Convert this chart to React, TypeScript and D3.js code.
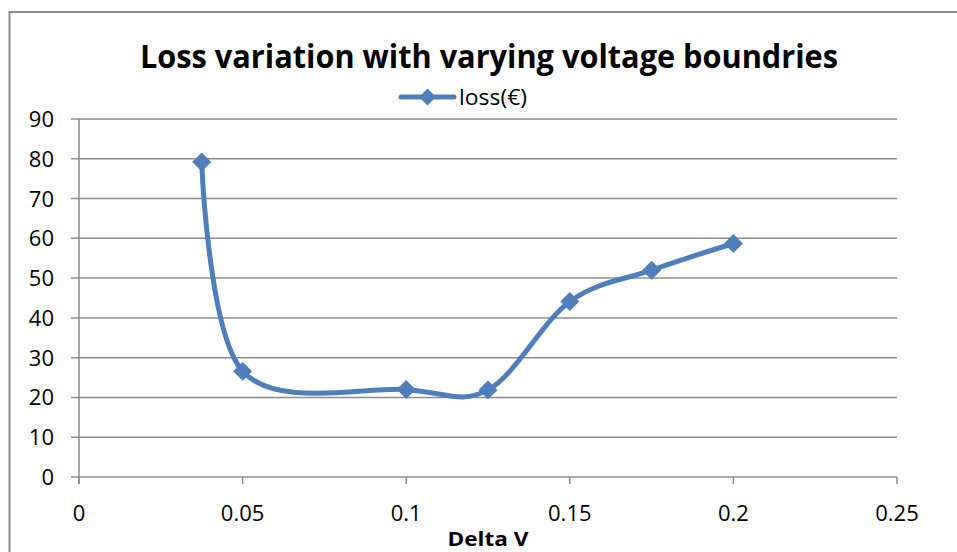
import React from "react";
import * as d3 from "d3";

// Loss figures per voltage band width
const deltaV = [0.0375, 0.05, 0.1, 0.125, 0.15, 0.175, 0.2];
const loss = [79.2, 26.6, 22.0, 21.9, 44.1, 52.0, 58.7];
const xTicks = [0, 0.05, 0.1, 0.15, 0.2, 0.25];
const yTicks = [0, 10, 20, 30, 40, 50, 60, 70, 80, 90];

const W = 957;
const H = 552;
const BLUE = "#4F7EBB";
const GRID = "#8C8C8C";
const FONT = "'Open Sans', 'Liberation Sans', sans-serif";

export default function App() {
  const x = d3.scaleLinear().domain([0, 0.25]).range([79, 897]);
  const y = d3.scaleLinear().domain([0, 90]).range([477, 119]);

  const pts: [number, number][] = deltaV.map((d, i) => [x(d), y(loss[i])]);
  const line = d3
    .line<[number, number]>()
    .x((d) => d[0])
    .y((d) => d[1])
    .curve(d3.curveCatmullRom.alpha(0));

  const diamond = (cx: number, cy: number, r: number) =>
    `M${cx},${cy - r}L${cx + r},${cy}L${cx},${cy + r}L${cx - r},${cy}Z`;

  return (
    <svg
      width={W}
      height={H}
      style={{ position: "fixed", left: 0, top: 0, background: "#fff" }}
    >
      <rect x={0} y={0} width={W} height={H} fill="#fff" />
      {/* chart frame */}
      <rect
        x={9.5}
        y={12}
        width={W + 20}
        height={H + 20}
        fill="none"
        stroke={GRID}
        strokeWidth={2}
      />

      {/* title */}
      <text
        x={489}
        y={68}
        textAnchor="middle"
        fontFamily={FONT}
        fontWeight="bold"
        fontSize={33}
        textLength={698}
        lengthAdjust="spacingAndGlyphs"
        fill="#000"
      >
        Loss variation with varying voltage boundries
      </text>

      {/* legend */}
      <g>
        <line x1={401} x2={454} y1={97} y2={97} stroke={BLUE} strokeWidth={5} strokeLinecap="round" />
        <path d={diamond(427.5, 97, 8.5)} fill={BLUE} />
        <text
          x={459}
          y={104.5}
          fontFamily={FONT}
          fontSize={21}
          textLength={68}
          lengthAdjust="spacingAndGlyphs"
          fill="#000"
        >
          loss(€)
        </text>
      </g>

      {/* horizontal gridlines and y ticks */}
      {yTicks.map((t) => (
        <g key={`y${t}`}>
          <line
            x1={71}
            x2={897}
            y1={y(t)}
            y2={y(t)}
            stroke={GRID}
            strokeWidth={1.5}
          />
          <text
            x={54}
            y={y(t) + 8}
            textAnchor="end"
            fontFamily={FONT}
            fontSize={22}
            fill="#000"
          >
            {t}
          </text>
        </g>
      ))}

      {/* vertical axis */}
      <line x1={x(0)} x2={x(0)} y1={y(90)} y2={484} stroke={GRID} strokeWidth={1.5} />

      {/* x ticks */}
      {xTicks.map((t) => (
        <g key={`x${t}`}>
          <line
            x1={x(t)}
            x2={x(t)}
            y1={y(0)}
            y2={484}
            stroke={GRID}
            strokeWidth={1.5}
          />
          <text
            x={x(t)}
            y={521}
            textAnchor="middle"
            fontFamily={FONT}
            fontSize={22}
            fill="#000"
          >
            {String(t)}
          </text>
        </g>
      ))}

      {/* x axis title */}
      <text
        x={488}
        y={546}
        textAnchor="middle"
        fontFamily={FONT}
        fontWeight="bold"
        fontSize={20}
        textLength={81}
        lengthAdjust="spacingAndGlyphs"
        fill="#000"
      >
        Delta V
      </text>

      {/* series */}
      <path
        d={line(pts) ?? ""}
        fill="none"
        stroke={BLUE}
        strokeWidth={5}
        strokeLinejoin="round"
        strokeLinecap="round"
      />
      {pts.map(([px, py], i) => (
        <path key={`m${i}`} d={diamond(px, py, 9.5)} fill={BLUE} />
      ))}
    </svg>
  );
}
